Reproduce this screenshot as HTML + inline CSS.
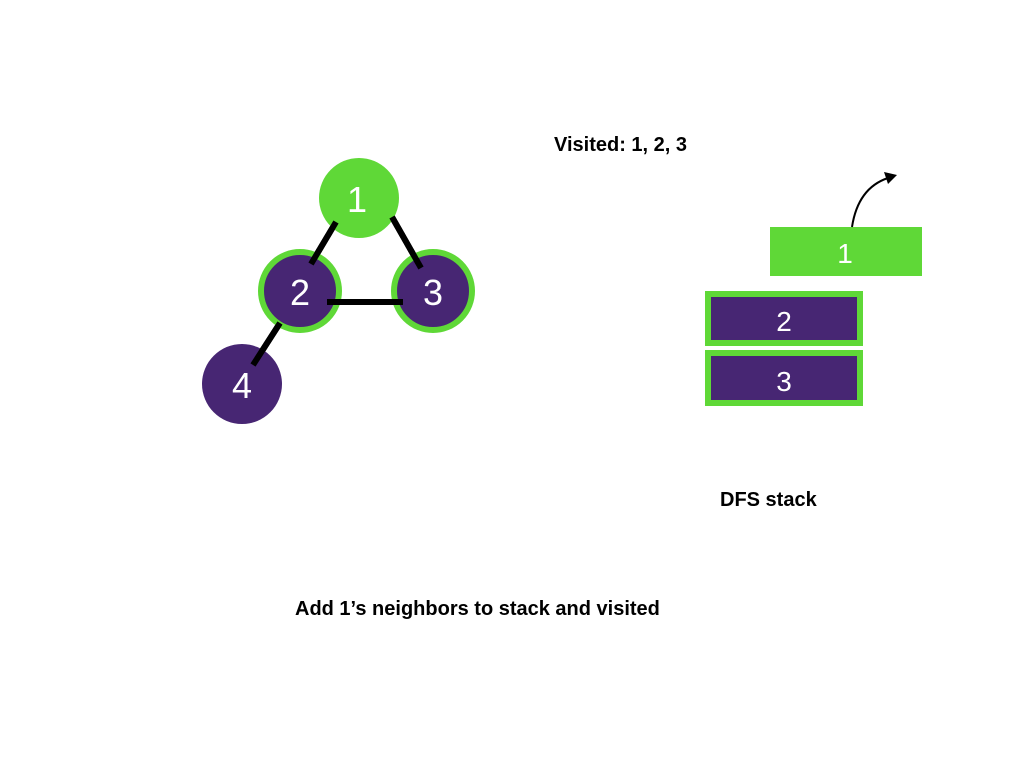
<!DOCTYPE html>
<html><head><meta charset="utf-8"><style>
html,body{margin:0;padding:0;background:#fff;width:1024px;height:768px;overflow:hidden}
svg{display:block}
</style></head><body>
<svg width="1024" height="768" xmlns="http://www.w3.org/2000/svg" font-family="Liberation Sans, Arial, sans-serif">
<rect width="1024" height="768" fill="#fff"/>
<g stroke="#000" stroke-width="6">
<line x1="336" y1="222" x2="311" y2="264"/>
<line x1="392" y1="217" x2="421" y2="268"/>
<line x1="327" y1="302" x2="403" y2="302"/>
<line x1="280" y1="323" x2="253" y2="365"/>
</g>
<circle cx="359" cy="198" r="40" fill="#5fd837"/>
<circle cx="300" cy="291" r="39" fill="#472673" stroke="#5fd837" stroke-width="6"/>
<circle cx="433" cy="291" r="39" fill="#472673" stroke="#5fd837" stroke-width="6"/>
<circle cx="242" cy="384" r="40" fill="#472673"/>
<g fill="#fff" font-size="36" text-anchor="middle">
<text x="357" y="212">1</text>
<text x="300" y="305">2</text>
<text x="433" y="305">3</text>
<text x="242" y="398">4</text>
</g>
<g stroke="#000" stroke-width="6">
<line x1="336" y1="222" x2="311" y2="264"/>
<line x1="392" y1="217" x2="421" y2="268"/>
<line x1="327" y1="302" x2="403" y2="302"/>
<line x1="280" y1="323" x2="253" y2="365"/>
</g>
<text x="554" y="151" font-size="20" font-weight="bold">Visited: 1, 2, 3</text>
<rect x="770" y="227" width="152" height="49" fill="#5fd837"/>
<text x="845" y="263" font-size="28" fill="#fff" text-anchor="middle">1</text>
<rect x="708" y="294" width="152" height="49" fill="#472673" stroke="#5fd837" stroke-width="6"/>
<text x="784" y="331" font-size="28" fill="#fff" text-anchor="middle">2</text>
<rect x="708" y="353" width="152" height="50" fill="#472673" stroke="#5fd837" stroke-width="6"/>
<text x="784" y="391" font-size="28" fill="#fff" text-anchor="middle">3</text>
<path d="M852 227 Q858 188 888 178" fill="none" stroke="#000" stroke-width="2"/>
<polygon points="897,175 884,172 888,184" fill="#000"/>
<text x="720" y="506" font-size="20" font-weight="bold">DFS stack</text>
<text x="295" y="615" font-size="20" font-weight="bold">Add 1’s neighbors to stack and visited</text>
</svg>
</body></html>
